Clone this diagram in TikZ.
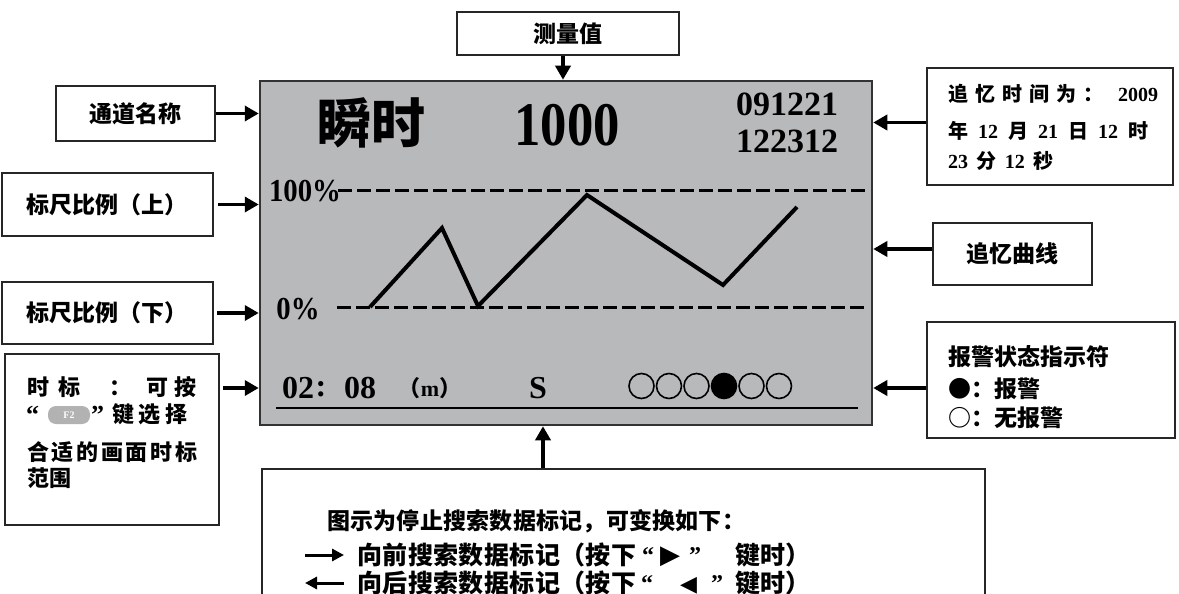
\documentclass[tikz,border=0pt]{standalone}
\usepackage{fontspec}
\usepackage{graphicx}
\setmainfont{Liberation Serif}
\newfontfamily\cjk{Noto Sans CJK SC}
\newfontfamily\ser{Liberation Serif}
\newfontfamily\dvs{DejaVu Sans}
\usetikzlibrary{arrows.meta}
\definecolor{scrgray}{RGB}{184,185,187}
\definecolor{pillgray}{RGB}{178,178,178}
\newcommand\fsz[1]{\fontsize{#1}{#1}\selectfont}
\newcommand\sd[1]{{\ser\bfseries #1}}
\def\sprgobble#1{}
\def\sprloop#1#2{#1\ifx\relax#2\expandafter\sprgobble\else\hfil\expandafter\sprloop\fi{#2}}
\newcommand\spr[2]{\hbox to #1{\sprloop#2\relax}}
\begin{document}
\begin{tikzpicture}[x=1pt,y=-1pt,
  box/.style={draw=black!85,line width=2pt,fill=white,inner sep=0pt},
  cj/.style={font=\cjk\bfseries\fsz{23}},
  cjs/.style={font=\cjk\bfseries\fsz{22}},
  cjl/.style={font=\cjk\bfseries\fsz{25}},
  arr/.style={line width=3.5pt,-{Triangle[length=14pt,width=15pt]}},
  icon/.style={line width=3pt,-{Triangle[length=12pt,width=12pt]}},
  num/.style={font=\ser\bfseries\fsz{#1}},
  dl/.style={line width=3pt,dash pattern=on 14pt off 5pt},
  ln/.style={anchor=base west,inner sep=0pt}]
\useasboundingbox (0,0) rectangle (1179,594);

% screen
\node[draw=black!80,line width=2.5pt,fill=scrgray,minimum width=612pt,minimum height=344pt,inner sep=0pt] (scr) at (566,253) {};
\node[font=\cjk\bfseries\fsz{54}] (nm) at (371,123) {瞬时};
\node[num=62] (val) at (567,125) {\scalebox{0.85}[1]{1000}};
\node[num=34] (d1) at (787,104) {091221};
\node[num=34] (d2) at (787,141) {122312};
\node[num=32] (hi) at (305,191) {\scalebox{0.9}[1]{100\%}};
\node[num=32] (lo) at (298,309) {\scalebox{0.9}[1]{0\%}};
\draw[dl] (338,190) -- (866,190);
\draw[dl] (337,307) -- (866,307);
\draw[line width=4pt] (370,307) -- (442,228) -- (478,306) -- (587,195) -- (723,285) -- (797,207);
\node[num=32] (t1) at (298,388) {02};
\node[num=32] (tc) at (321,389) {:};
\node[num=32] (t2) at (360,388) {08};
\node[cjs] (un) at (430,388) {（\sd{m}）};
\node[num=32] (ss) at (538,388) {S};
\foreach \i in {0,...,5}{
  \ifnum\i=3
    \draw[line width=1.6pt,fill=black] (641.5+27.5*\i,386) circle[radius=12.5pt];
  \else
    \draw[line width=1.6pt] (641.5+27.5*\i,386) circle[radius=12.5pt];
  \fi}
\draw[line width=1.5pt] (276,408) -- (858,408);

% measured value
\node[box,cj,minimum width=222pt,minimum height=43pt] (mv) at (568,33.5) {测量值\hspace{10pt}};
\draw[arr] ([xshift=-5pt]mv.south) -- ([xshift=-5pt]mv.south |- scr.north);

% left labels
\node[box,cj,minimum width=159pt,minimum height=55pt] (ch) at (135.5,113.5) {通道名称\hspace{20pt}};
\draw[arr] (ch.east) -- (ch.east -| scr.west);
\node[box,cj,minimum width=211pt,minimum height=63pt] (su) at (107.5,204.5) {标尺比例（上）\hspace{8pt}};
\draw[arr] ([xshift=4pt]su.east) -- (su.east -| scr.west);
\node[box,cj,minimum width=211pt,minimum height=62pt] (sl) at (107.5,313) {标尺比例（下）\hspace{8pt}};
\draw[arr] ([xshift=3pt]sl.east) -- (sl.east -| scr.west);

% time scale box
\node[box,minimum width=214pt,minimum height=171pt] (ts) at (112,439.5) {};
\coordinate (tsa) at ([xshift=3pt,yshift=-35pt]ts.north east);
\draw[arr] (tsa) -- (tsa -| scr.west);
\node[ln,cjs] (ts1) at (27,395) {\hbox to 169pt{时\hspace{9pt}标\hfil\hfil ：\hfil 可\hspace{6pt}按}};
\node[ln,num=26] (ts2a) at (26,423) {“};
\node[fill=pillgray,rounded corners=8pt,minimum width=42pt,minimum height=18pt,inner sep=0pt,font=\ser\bfseries\fsz{10},text=white] (f2) at (69,415) {F2};
\node[ln,num=26] (ts2b) at (91,423) {”};
\node[ln,cjs] (ts2c) at (112,422) {\hbox to 75pt{键\hfil 选\hfil 择}};
\node[ln,cjs] (ts3) at (27,460) {\spr{170pt}{合适的画面时标}};
\node[ln,cjs] (ts4) at (27,486) {范围};

% recall time box
\node[box,minimum width=246pt,minimum height=117pt] (rt) at (1050,126.5) {};
\draw[arr] ([yshift=4pt]rt.west) -- ([yshift=4pt]rt.west -| scr.east);
\node[ln,font=\cjk\bfseries\fsz{20}] (rt1) at (948,102) {\hbox to 210pt{追\hfil 忆\hfil 时\hfil 间\hfil 为\hfil ：\hfil\hfil\sd{2009}}};
\node[ln,font=\cjk\bfseries\fsz{20}] (rt2) at (948,139) {\hbox to 200pt{年\hfil\sd{12}\hfil 月\hfil\sd{21}\hfil 日\hfil\sd{12}\hfil 时}};
\node[ln,font=\cjk\bfseries\fsz{20}] (rt3) at (948,168) {\hbox to 105pt{\sd{23}\hfil 分\hfil\sd{12}\hfil 秒}};

% recall curve box
\node[box,cj,minimum width=159pt,minimum height=62pt] (cv) at (1012.5,254) {追忆曲线\hspace{20pt}};
\draw[arr] ([yshift=5pt]cv.west) -- ([yshift=5pt]cv.west -| scr.east);

% alarm box
\node[box,minimum width=248pt,minimum height=116pt] (al) at (1051,380) {};
\draw[arr] ([yshift=-8pt]al.west) -- ([yshift=-8pt]al.west -| scr.east);
\node[ln,cj] (al1) at (948,365) {报警状态指示符};
\node[ln,cj] (al2) at (948,397) {●：报警};
\node[ln,cj] (al3) at (948,426) {○：无报警};

% bottom box
\node[box,minimum width=723pt,minimum height=150pt,anchor=north] (bx) at (623.5,468) {};
\draw[arr] ([xshift=-80.5pt]bx.north) -- ([xshift=-80.5pt]bx.north |- scr.south);
\node[ln,cj] (b1) at (327,529) {\spr{418pt}{图示为停止搜索数据标记，可变换如下：}};
\coordinate (a1s) at (305,555);
\coordinate (a1e) at (344,555);
\draw[icon] (a1s) -- (a1e);
\node[ln,cjl] (b2) at (357,564) {\spr{279pt}{向前搜索数据标记（按下}};
\node[ln,num=24] (b2q1) at (642,563) {“};
\node[ln,font=\dvs\fsz{26}] (b2t) at (660,563) {▶};
\node[ln,num=24] (b2q2) at (689,563) {”};
\node[ln,cjl] (b2k) at (735,564) {键时）};
\coordinate (a2s) at (344,583);
\coordinate (a2e) at (305,583);
\draw[icon] (a2s) -- (a2e);
\node[ln,cjl] (b3) at (357,592) {\spr{279pt}{向后搜索数据标记（按下}};
\node[ln,num=24] (b3q1) at (641,591) {“};
\node[ln,font=\dvs\fsz{22}] (b3t) at (680,591) {◀};
\node[ln,num=24] (b3q2) at (711,591) {”};
\node[ln,cjl] (b3k) at (735,592) {键时）};
\end{tikzpicture}
\end{document}
